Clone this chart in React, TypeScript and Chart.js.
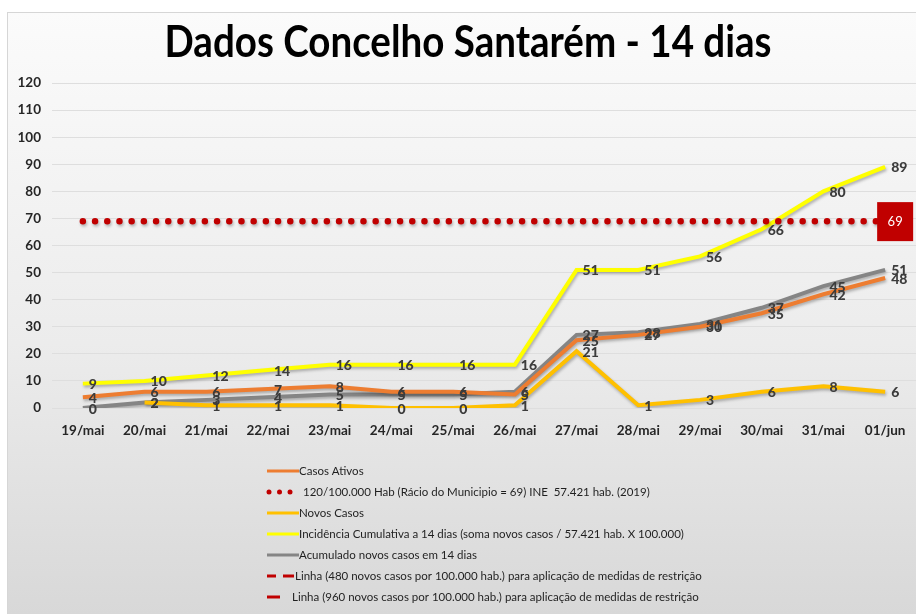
import React, { useEffect, useRef } from "react";
import { Chart, registerables } from "chart.js";

Chart.register(...registerables);

const TITLE = "Dados Concelho Santarém - 14 dias";
const categories = [
  "19/mai", "20/mai", "21/mai", "22/mai", "23/mai", "24/mai", "25/mai",
  "26/mai", "27/mai", "28/mai", "29/mai", "30/mai", "31/mai", "01/jun",
];
const casosAtivos = [4, 6, 6, 7, 8, 6, 6, 5, 25, 27, 30, 35, 42, 48];
const limiar120 = [69, 69, 69, 69, 69, 69, 69, 69, 69, 69, 69, 69, 69, 69];
const novosCasos = [null, 2, 1, 1, 1, 0, 0, 1, 21, 1, 3, 6, 8, 6];
const incidencia = [9, 10, 12, 14, 16, 16, 16, 16, 51, 51, 56, 66, 80, 89];
const acumulado = [0, 2, 3, 4, 5, 5, 5, 6, 27, 28, 31, 37, 45, 51];
const linha480: number[] = [];
const linha960: number[] = [];

const seriesLabels = [
  "Casos Ativos",
  "120/100.000 Hab (Rácio do Municipio = 69) INE  57.421 hab. (2019)",
  "Novos Casos",
  "Incidência Cumulativa a 14 dias (soma novos casos / 57.421 hab. X 100.000)",
  "Acumulado novos casos em 14 dias",
  "Linha (480 novos casos por 100.000 hab.) para aplicação de medidas de restrição",
  "Linha (960 novos casos por 100.000 hab.) para aplicação de medidas de restrição",
];

const Y_MIN = 0;
const Y_MAX = 120;
const Y_STEP = 10;

const FONT = 'Lato, "Open Sans", "DejaVu Sans", sans-serif';

const COLORS = {
  orange: "#ED7D31",
  red: "#C00000",
  gold: "#FFC000",
  yellow: "#FFFF00",
  gray: "#858585",
  text: "#3c3c3c",
};

const backgroundPlugin = {
  id: "bgPanel",
  beforeDraw(chart: any) {
    const { ctx, width, height } = chart;
    ctx.save();
    ctx.fillStyle = "#ffffff";
    ctx.fillRect(0, 0, width, height);
    const g = ctx.createLinearGradient(0, 12, 0, height);
    g.addColorStop(0, "#fbfbfb");
    g.addColorStop(0.55, "#ececec");
    g.addColorStop(1, "#d8d8d8");
    ctx.fillStyle = g;
    ctx.fillRect(7, 12, width - 7, height - 12);
    ctx.strokeStyle = "#d6d6d6";
    ctx.lineWidth = 1;
    ctx.strokeRect(7.5, 12.5, width, height);
    // title, fitted to the reference width
    ctx.fillStyle = "#000000";
    ctx.font = `bold 43px ${FONT}`;
    ctx.textAlign = "center";
    ctx.textBaseline = "alphabetic";
    const w = ctx.measureText(TITLE).width;
    const sx = 607 / w;
    ctx.translate(468, 57);
    ctx.scale(sx, 1);
    ctx.fillText(TITLE, 0, 0);
    ctx.restore();
  },
};

const shadowPlugin = {
  id: "lineShadow",
  beforeDatasetDraw(chart: any) {
    const ctx = chart.ctx;
    ctx.save();
    ctx.shadowColor = "rgba(0,0,0,0.28)";
    ctx.shadowBlur = 3;
    ctx.shadowOffsetX = 1;
    ctx.shadowOffsetY = 2;
  },
  afterDatasetDraw(chart: any) {
    chart.ctx.restore();
  },
};

const labelPlugin = {
  id: "valueLabels",
  afterDatasetsDraw(chart: any) {
    const ctx = chart.ctx;
    ctx.save();
    chart.data.datasets.forEach((ds: any, i: number) => {
      const meta = chart.getDatasetMeta(i);
      if (meta.hidden || ds.labelMode === "none") return;
      meta.data.forEach((pt: any, j: number) => {
        const v = ds.data[j];
        if (v == null) return;
        if (ds.labelMode === "last") {
          if (j !== ds.data.length - 1) return;
          ctx.fillStyle = COLORS.red;
          ctx.fillRect(pt.x - 8, pt.y - 19, 36, 39);
          ctx.fillStyle = "#ffffff";
          ctx.font = `13px ${FONT}`;
          ctx.textAlign = "center";
          ctx.textBaseline = "middle";
          ctx.fillText(String(v), pt.x + 10, pt.y + 1);
          return;
        }
        ctx.fillStyle = COLORS.text;
        ctx.font = `900 14px ${FONT}`;
        ctx.textAlign = "left";
        ctx.textBaseline = "middle";
        ctx.fillText(String(v), pt.x + 6, pt.y + 1);
      });
    });
    ctx.restore();
  },
};

const legendPlugin = {
  id: "customLegend",
  afterDraw(chart: any) {
    const ctx = chart.ctx;
    const x0 = 267;
    const y0 = 471;
    const rowH = 21;
    ctx.save();
    chart.data.datasets.forEach((ds: any, i: number) => {
      const y = y0 + i * rowH;
      ctx.save();
      ctx.strokeStyle = ds.borderColor;
      ctx.fillStyle = ds.borderColor;
      let tx = 299;
      if (ds.legendSymbol === "dots") {
        for (let k = 0; k < 3; k++) {
          ctx.beginPath();
          ctx.arc(x0 + 2 + k * 10.5, y, 2.5, 0, Math.PI * 2);
          ctx.fill();
        }
        tx = 303;
      } else if (ds.legendSymbol === "dash") {
        ctx.lineWidth = 3;
        ctx.beginPath();
        ctx.moveTo(x0, y);
        ctx.lineTo(x0 + 9, y);
        ctx.moveTo(x0 + 16, y);
        ctx.lineTo(x0 + 27, y);
        ctx.stroke();
        tx = 295;
      } else if (ds.legendSymbol === "short") {
        ctx.lineWidth = 3;
        ctx.beginPath();
        ctx.moveTo(x0, y);
        ctx.lineTo(x0 + 13, y);
        ctx.stroke();
        tx = 292;
      } else {
        ctx.lineWidth = 3;
        ctx.beginPath();
        ctx.moveTo(x0, y);
        ctx.lineTo(x0 + 32, y);
        ctx.stroke();
      }
      ctx.restore();
      ctx.fillStyle = "#1f1f1f";
      ctx.font = `11.5px ${FONT}`;
      ctx.textAlign = "left";
      ctx.textBaseline = "middle";
      ctx.fillText(ds.label, tx, y);
    });
    ctx.restore();
  },
};

export default function App() {
  const ref = useRef<HTMLCanvasElement | null>(null);

  useEffect(() => {
    document.body.style.margin = "0";
    const canvas = ref.current;
    if (!canvas) return;
    const chart = new Chart(canvas, {
      type: "line",
      data: {
        labels: categories,
        datasets: [
          {
            label: seriesLabels[0],
            data: casosAtivos,
            borderColor: COLORS.orange,
            backgroundColor: COLORS.orange,
            borderWidth: 4,
            pointRadius: 0,
            labelMode: "right",
            legendSymbol: "line",
          } as any,
          {
            label: seriesLabels[1],
            data: limiar120,
            borderColor: COLORS.red,
            backgroundColor: COLORS.red,
            borderWidth: 6.5,
            borderDash: [0, 12.2],
            borderCapStyle: "round",
            pointRadius: 0,
            labelMode: "last",
            legendSymbol: "dots",
          } as any,
          {
            label: seriesLabels[2],
            data: novosCasos,
            borderColor: COLORS.gold,
            backgroundColor: COLORS.gold,
            borderWidth: 4,
            pointRadius: 0,
            labelMode: "right",
            legendSymbol: "line",
          } as any,
          {
            label: seriesLabels[3],
            data: incidencia,
            borderColor: COLORS.yellow,
            backgroundColor: COLORS.yellow,
            borderWidth: 4,
            pointRadius: 0,
            labelMode: "right",
            legendSymbol: "line",
          } as any,
          {
            label: seriesLabels[4],
            data: acumulado,
            borderColor: COLORS.gray,
            backgroundColor: COLORS.gray,
            borderWidth: 4,
            pointRadius: 0,
            labelMode: "right",
            legendSymbol: "line",
          } as any,
          {
            label: seriesLabels[5],
            data: linha480,
            borderColor: COLORS.red,
            backgroundColor: COLORS.red,
            borderWidth: 3,
            borderDash: [9, 7],
            pointRadius: 0,
            labelMode: "none",
            legendSymbol: "dash",
          } as any,
          {
            label: seriesLabels[6],
            data: linha960,
            borderColor: COLORS.red,
            backgroundColor: COLORS.red,
            borderWidth: 3,
            pointRadius: 0,
            labelMode: "none",
            legendSymbol: "short",
          } as any,
        ],
      },
      options: {
        responsive: false,
        animation: false,
        devicePixelRatio: 1,
        layout: { padding: { top: 83, left: 0, right: 0, bottom: 166 } },
        plugins: {
          legend: { display: false },
          title: { display: false },
          tooltip: { enabled: false },
        },
        elements: { line: { tension: 0 } },
        scales: {
          x: {
            offset: true,
            grid: { display: false, drawTicks: false },
            border: { display: false },
            ticks: {
              color: "#262626",
              font: { family: FONT, size: 13.5, weight: "bold" },
              padding: 15,
              autoSkip: false,
              maxRotation: 0,
            },
            afterFit(scale: any) {
              scale.height = 40;
              scale.paddingLeft = 0;
              scale.paddingRight = 0;
            },
          },
          y: {
            min: Y_MIN,
            max: Y_MAX,
            grid: { color: "#dedede", lineWidth: 1, drawTicks: false },
            border: { display: false },
            ticks: {
              stepSize: Y_STEP,
              color: "#262626",
              font: { family: FONT, size: 13.5, weight: "bold" },
              padding: 11,
            },
            afterFit(scale: any) {
              scale.width = 52;
              scale.paddingTop = 0;
              scale.paddingBottom = 0;
            },
          },
        },
      } as any,
      plugins: [backgroundPlugin, shadowPlugin, labelPlugin, legendPlugin],
    });
    return () => chart.destroy();
  }, []);

  return <canvas ref={ref} width={916} height={614} style={{ display: "block" }} />;
}
